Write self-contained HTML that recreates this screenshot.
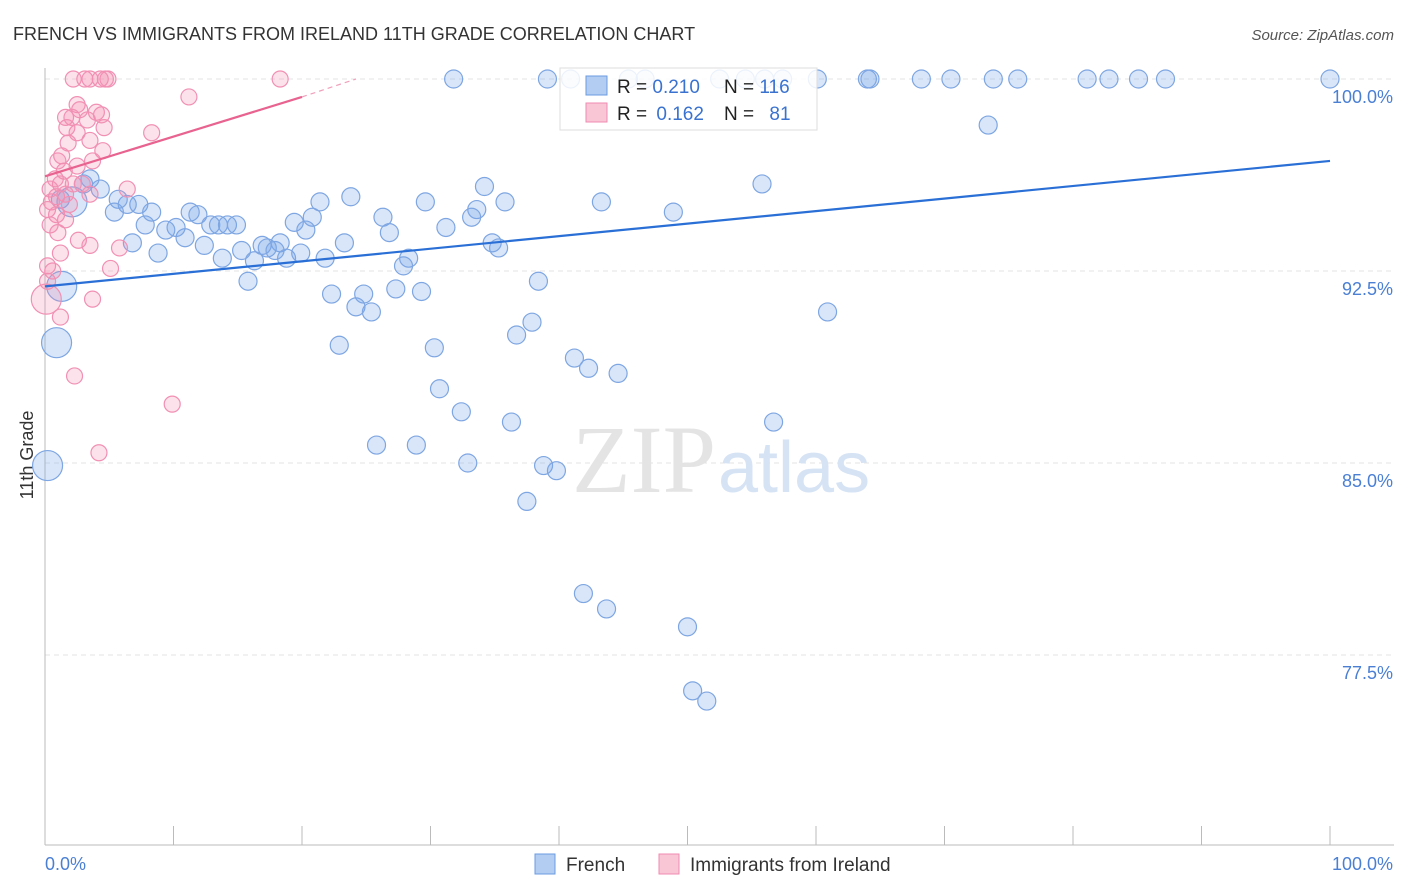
<!DOCTYPE html>
<html><head><meta charset="utf-8"><style>
body{margin:0;background:#fff;font-family:"Liberation Sans",sans-serif;}
svg{display:block}
</style></head><body>
<svg id="chart" width="1406" height="892" xmlns="http://www.w3.org/2000/svg">
<text x="13" y="40" font-size="18" fill="#333">FRENCH VS IMMIGRANTS FROM IRELAND 11TH GRADE CORRELATION CHART</text>
<text x="1394" y="40" font-size="15" fill="#555" text-anchor="end" font-style="italic">Source: ZipAtlas.com</text>
<text x="0" y="0" transform="translate(33,455) rotate(-90)" font-size="18" fill="#333" text-anchor="middle">11th Grade</text>
<g id="grid"></g>
<text x="716" y="492" font-size="96" fill="#e4e4e4" text-anchor="end" font-family="Liberation Serif,serif">ZIP</text>
<text x="718" y="492" font-size="72" fill="#d6e3f5">atlas</text>
<g id="pts"></g>
<g id="lines"></g>
<g>
<rect x="560" y="68" width="257" height="62" fill="#fff" fill-opacity="0.85" stroke="#ddd"/>
<rect x="586" y="76" width="21" height="19" fill="#b3cdf2" stroke="#6a9be0"/>
<text x="617" y="93" font-size="19" fill="#222">R = <tspan fill="#3a72d0">0.210</tspan></text>
<text x="724" y="93" font-size="19" fill="#222">N = <tspan fill="#3a72d0">116</tspan></text>
<rect x="586" y="103" width="21" height="19" fill="#f9c6d6" stroke="#f08bb0"/>
<text x="617" y="120" font-size="19" fill="#222">R = <tspan fill="#3a72d0" dx="4">0.162</tspan></text>
<text x="724" y="120" font-size="19" fill="#222">N = <tspan fill="#3a72d0" dx="10">81</tspan></text>
</g>
<g>
<rect x="535" y="854" width="20" height="20" fill="#b3cdf2" stroke="#6a9be0"/>
<text x="566" y="871" font-size="19" fill="#333">French</text>
<rect x="659" y="854" width="20" height="20" fill="#f9c6d6" stroke="#f08bb0"/>
<text x="690" y="871" font-size="19" fill="#333">Immigrants from Ireland</text>
</g>
</svg>
<script>
const blueX=[31.8,39.1,40.9,45.4,46.7,52.5,54.5,56.0,57.4,60.1,64.0,64.2,68.2,70.5,73.8,75.7,81.1,82.8,85.1,87.2,100,73.4,55.8,34.2,23.8,29.6,43.3,35.8,33.6,48.9,21.4,26.3,20.8,33.2,31.2,26.8,19.4,20.3,23.3,34.8,35.3,18.3,16.9,17.3,15.3,17.9,16.3,18.8,19.9,21.8,28.3,27.9,13.8,12.4,10.9,10.2,9.4,7.8,8.3,11.3,11.9,12.9,13.5,14.2,14.9,8.8,6.8,7.3,6.4,5.7,5.4,4.3,3.5,3.0,1.2,15.8,38.4,22.3,24.8,27.3,29.3,24.2,25.4,37.9,60.9,36.7,22.9,30.3,41.2,42.3,44.6,30.7,32.4,36.3,56.7,25.8,28.9,32.9,38.8,39.8,37.5,41.9,43.7,50.0,50.4,51.5,1.3,0.9,0.2,2.1];
const blueY=[100,100,100,100,100,100,100,100,100,100,100,100,100,100,100,100,100,100,100,100,100,98.2,95.9,95.8,95.4,95.2,95.2,95.2,94.9,94.8,95.2,94.6,94.6,94.6,94.2,94.0,94.4,94.1,93.6,93.6,93.4,93.6,93.5,93.4,93.3,93.3,92.9,93.0,93.2,93.0,93.0,92.7,93.0,93.5,93.8,94.2,94.1,94.3,94.8,94.8,94.7,94.3,94.3,94.3,94.3,93.2,93.6,95.1,95.1,95.3,94.8,95.7,96.1,95.9,95.3,92.1,92.1,91.6,91.6,91.8,91.7,91.1,90.9,90.5,90.9,90.0,89.6,89.5,89.1,88.7,88.5,87.9,87.0,86.6,86.6,85.7,85.7,85.0,84.9,84.7,83.5,79.9,79.3,78.6,76.1,75.7,91.9,89.7,84.9,95.2];
const blueBigCount=4;
const pinkX=[2.2,3.1,3.5,4.3,4.7,4.9,18.3,11.2,2.5,2.7,4.0,4.4,1.6,2.1,3.3,1.7,4.6,2.5,3.5,8.3,1.8,4.5,1.3,3.7,2.5,1.5,0.8,2.2,2.9,1.2,0.4,0.9,1.6,3.5,0.5,0.2,0.9,1.6,0.4,1.0,2.6,3.5,1.2,0.2,5.1,0.2,3.7,1.2,2.3,9.9,4.2,6.4,5.8,0.1,0.6,1.9,1.0];
const pinkY=[100,100,100,100,100,100,100,99.3,99.0,98.8,98.7,98.6,98.5,98.5,98.4,98.1,98.1,97.9,97.6,97.9,97.5,97.2,97.0,96.8,96.6,96.4,96.1,95.9,95.9,95.9,95.7,95.4,95.5,95.5,95.2,94.9,94.7,94.5,94.3,94.0,93.7,93.5,93.2,92.7,92.6,92.1,91.4,90.7,88.4,87.3,85.4,95.7,93.4,91.4,92.5,95.1,96.8];
const pinkBig=[53];
const yTicks=[100,92.5,85,77.5];
const yTickLabels=["100.0%","92.5%","85.0%","77.5%"];
const blueTrend=[[0,91.9],[100,96.8]];
const pinkTrend=[[0,96.2],[20,99.3]];
const pinkDash=[[20,99.3],[24.2,100]];

const NS="http://www.w3.org/2000/svg";
const X=v=>45+v*12.85, Y=v=>79+(100-v)*25.6;
function mk(t,a,p){const e=document.createElementNS(NS,t);for(const k in a)e.setAttribute(k,a[k]);p.appendChild(e);return e;}
const grid=document.getElementById('grid');
yTicks.forEach((t,i)=>{
 const l=mk('line',{x1:45,x2:1394,y1:Y(t),y2:Y(t),stroke:'#e3e3e3','stroke-dasharray':'5,4'},grid);
 
 
 const tx=mk('text',{x:1393,y:Y(t)+24,'font-size':18,fill:'#4a7fd4','text-anchor':'end'},grid);
 tx.textContent=yTickLabels[i];
 
 
});
mk('line',{x1:45,x2:45,y1:68,y2:845,stroke:'#bbb'},grid);
mk('line',{x1:45,x2:1394,y1:845,y2:845,stroke:'#bbb'},grid);
for(let i=0;i<=10;i++){const t=mk('line',{x1:X(i*10),x2:X(i*10),y1:826,y2:845,stroke:'#bbb'},grid);
 
 }
const x0=mk('text',{x:45,y:870,'font-size':18,fill:'#4a7fd4'},grid);x0.textContent='0.0%';


const x1=mk('text',{x:1393,y:870,'font-size':18,fill:'#4a7fd4','text-anchor':'end'},grid);x1.textContent='100.0%';


const pts=document.getElementById('pts');
blueX.forEach((x,i)=>{const c=mk('circle',{cx:X(x),cy:Y(blueY[i]),r:(i>=blueX.length-blueBigCount)?15:9,fill:'rgba(120,165,235,0.28)',stroke:'#7ea6e2','stroke-width':1.2},pts);
 
 });
pinkX.forEach((x,i)=>{const c=mk('circle',{cx:X(x),cy:Y(pinkY[i]),r:pinkBig.includes(i)?15:8,fill:'rgba(245,140,175,0.25)',stroke:'#f190b3','stroke-width':1.2},pts);
 
 });
const lines=document.getElementById('lines');
const bl=mk('line',{x1:X(blueTrend[0][0]),y1:Y(blueTrend[0][1]),x2:X(blueTrend[1][0]),y2:Y(blueTrend[1][1]),stroke:'#2a6fd6','stroke-width':2.2},lines);


const pl=mk('line',{x1:X(pinkTrend[0][0]),y1:Y(pinkTrend[0][1]),x2:X(pinkTrend[1][0]),y2:Y(pinkTrend[1][1]),stroke:'#e8638f','stroke-width':2.2},lines);


const pd=mk('line',{x1:X(pinkDash[0][0]),y1:Y(pinkDash[0][1]),x2:X(pinkDash[1][0]),y2:Y(pinkDash[1][1]),stroke:'#f0a0bb','stroke-width':1.2,'stroke-dasharray':'5,4'},lines);


</script>
</body></html>
